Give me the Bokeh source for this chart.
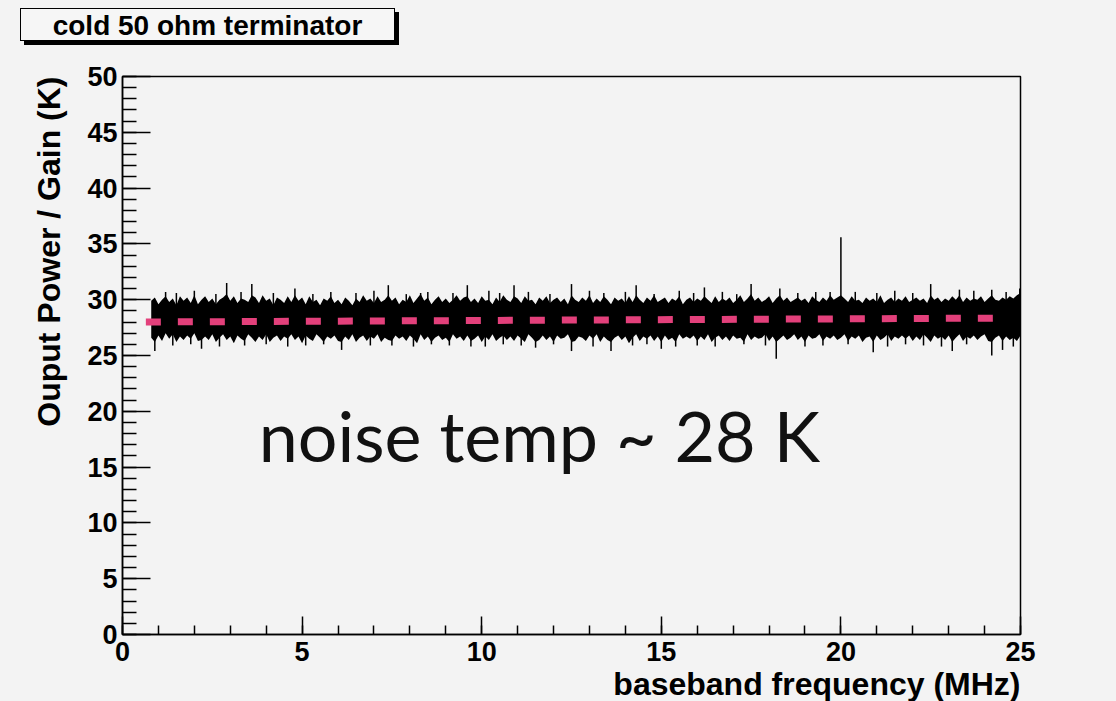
import numpy as np
from bokeh.plotting import figure
from bokeh.models import Range1d, SingleIntervalTicker, Label, Div, Title
from bokeh.layouts import column
from bokeh.embed import file_html
from bokeh.resources import INLINE

# ---------------- data ----------------
title_text = "cold 50 ohm terminator"
x_label = "baseband frequency (MHz)"
y_label = "Ouput Power / Gain (K)"
note_text = "noise temp ~ 28 K"

freq_start = 0.8      # MHz, first bin of the trace
freq_step = 0.1       # MHz, bin width used for the envelope readout

# upper envelope of the dense noise band (K), one value per 0.1 MHz from 0.8 to 25.0
band_hi = [
    29.9, 30.2, 29.6, 30.0, 30.3, 29.8, 30.1, 29.5, 30.3, 29.9,
    30.2, 29.7, 30.4, 29.6, 30.0, 30.3, 29.8, 30.1, 29.6, 30.0,
    30.2, 30.5, 29.9, 30.3, 29.7, 30.1, 30.0, 29.8, 30.4, 30.2,
    29.7, 30.4, 29.9, 30.1, 29.5, 30.2, 30.0, 29.7, 30.3, 29.8,
    30.4, 29.9, 30.2, 29.6, 30.3, 29.8, 30.0, 29.5, 30.1, 29.9,
    30.3, 29.7, 30.0, 29.6, 30.2, 29.9, 29.5, 30.1, 29.8, 30.4,
    29.9, 30.1, 29.7, 30.3, 29.8, 30.0, 30.4, 29.9, 30.2, 29.6,
    30.0, 29.8, 30.4, 29.7, 30.1, 30.5, 29.9, 30.2, 29.6, 30.0,
    30.3, 29.8, 30.1, 29.7, 30.0, 30.4, 29.9, 30.2, 30.3, 29.8,
    30.1, 29.7, 30.3, 29.9, 30.0, 29.6, 30.2, 29.8, 30.4, 30.0,
    29.8, 30.3, 30.1, 29.7, 30.3, 29.9, 30.0, 29.6, 30.2, 29.9,
    30.3, 29.7, 30.0, 30.2, 29.8, 30.1, 29.6, 30.4, 30.0, 29.8,
    30.2, 29.9, 30.4, 29.7, 30.1, 29.8, 30.3, 30.0, 29.6, 30.2,
    29.9, 30.1, 29.7, 30.3, 29.8, 30.4, 30.0, 29.7, 30.2, 29.9,
    30.4, 29.8, 30.0, 30.2, 29.7, 30.1, 29.9, 30.3, 29.6, 30.0,
    30.2, 29.8, 30.1, 29.9, 30.3, 30.0, 29.7, 30.3, 29.8, 30.1,
    29.9, 30.2, 29.7, 30.0, 30.4, 29.8, 30.1, 30.5, 29.9, 30.2,
    29.8, 30.0, 30.3, 29.7, 30.1, 30.4, 29.9, 30.2, 29.8, 30.0,
    30.2, 29.9, 30.1, 29.7, 30.3, 30.0, 29.8, 30.2, 29.9, 30.4,
    30.0, 30.2, 30.4, 30.1, 29.8, 30.3, 29.9, 30.0, 29.7, 30.2,
    29.9, 30.1, 29.8, 30.4, 29.7, 30.0, 30.2, 29.8, 30.1, 29.9,
    30.3, 29.8, 30.0, 30.2, 29.9, 30.1, 29.7, 30.4, 30.0, 30.2,
    29.8, 30.1, 29.9, 30.3, 30.0, 30.4, 29.8, 30.2, 29.9, 30.1,
    30.0, 30.3, 29.8, 30.1, 30.4, 30.0, 29.9, 30.2, 30.0, 30.3,
    30.1, 30.4, 30.6,
]

# lower envelope of the dense noise band (K)
band_lo = [
    26.6, 26.2, 26.8, 26.3, 27.0, 26.5, 26.9, 26.2, 26.7, 26.4,
    26.8, 26.5, 27.0, 26.3, 26.4, 26.7, 26.4, 26.9, 26.2, 26.6,
    26.9, 26.4, 26.7, 26.1, 26.8, 26.5, 26.3, 26.9, 26.6, 26.2,
    26.7, 26.4, 26.9, 26.2, 26.6, 26.8, 26.3, 26.7, 26.5, 26.9,
    26.4, 26.7, 26.1, 26.8, 26.5, 26.3, 26.9, 26.6, 26.2, 26.7,
    26.5, 26.8, 26.3, 26.2, 26.7, 26.4, 26.9, 26.2, 26.6, 26.8,
    26.3, 26.7, 26.5, 26.9, 26.2, 26.6, 26.4, 26.3, 26.8, 26.5,
    26.7, 26.3, 26.8, 26.5, 26.1, 26.9, 26.4, 26.7, 26.2, 26.6,
    26.8, 26.4, 26.6, 26.2, 26.9, 26.5, 26.7, 26.3, 26.8, 26.3,
    26.5, 26.8, 26.2, 26.7, 26.4, 26.9, 26.3, 26.6, 26.8, 26.4,
    26.7, 26.3, 26.8, 26.5, 26.2, 26.9, 26.6, 26.2, 26.4, 26.8,
    26.4, 26.7, 26.2, 26.8, 26.5, 26.6, 26.9, 26.2, 26.3, 26.7,
    26.6, 26.3, 26.8, 26.5, 26.9, 26.2, 26.7, 26.4, 26.2, 26.6,
    26.8, 26.4, 26.7, 26.1, 26.6, 26.9, 26.3, 26.7, 26.5, 26.8,
    26.3, 26.7, 26.2, 26.8, 26.4, 26.6, 26.2, 26.9, 26.5, 26.7,
    26.5, 26.8, 26.3, 26.7, 26.4, 26.9, 26.2, 26.6, 26.8, 26.4,
    26.7, 26.3, 26.8, 26.5, 26.6, 26.2, 26.9, 26.4, 26.7, 26.5,
    26.6, 26.9, 26.3, 26.7, 26.2, 26.5, 26.8, 26.4, 26.6, 26.9,
    26.4, 26.7, 26.2, 26.8, 26.5, 26.6, 26.9, 26.3, 26.7, 26.5,
    26.8, 26.4, 26.6, 26.9, 26.3, 26.7, 26.5, 26.8, 26.2, 26.6,
    26.7, 26.2, 26.8, 26.4, 26.6, 26.9, 26.3, 26.7, 26.5, 26.8,
    26.5, 26.8, 26.3, 26.7, 26.4, 26.9, 26.6, 26.2, 26.8, 26.5,
    26.7, 26.4, 26.8, 26.2, 26.6, 26.9, 26.3, 26.7, 26.5, 26.8,
    26.4, 26.7, 26.9, 26.3, 26.2, 26.6, 26.8, 26.3, 26.7, 26.4,
    26.6, 26.3, 26.8,
]

# isolated upward spikes (MHz, K)
spike_up_x = [1.2, 1.5, 2.0, 2.6, 2.9, 3.3, 3.6, 4.2, 4.8, 5.3, 5.8, 6.5, 7.0, 7.4,
              7.9, 8.3, 8.5, 9.2, 9.6, 10.2, 10.5, 10.9, 11.3, 11.9, 12.5, 13.0,
              13.4, 14.0, 14.3, 14.8, 15.5, 15.9, 16.2, 16.7, 17.1, 17.5, 18.3,
              18.8, 19.3, 19.7, 20.0, 20.4, 21.0, 21.5, 22.0, 22.5, 23.3, 23.7,
              24.2, 24.6, 24.98]
spike_up_y = [30.7, 30.6, 30.8, 30.5, 31.5, 30.7, 31.4, 30.6, 31.0, 30.5, 30.7, 30.6,
              30.8, 31.3, 30.5, 30.6, 30.7, 30.6, 31.3, 30.8, 30.6, 31.3, 30.7, 30.5,
              31.4, 30.8, 30.6, 30.7, 31.3, 30.5, 30.8, 30.6, 31.1, 30.7, 30.5, 31.4,
              31.0, 30.6, 30.7, 30.7, 35.6, 30.7, 30.6, 30.8, 30.6, 31.4, 30.9, 30.8,
              30.9, 30.7, 31.0]

# isolated downward spikes (MHz, K)
spike_dn_x = [0.9, 1.4, 1.9, 2.2, 2.7, 3.4, 4.0, 4.6, 5.1, 5.6, 6.1, 6.9, 7.5, 8.1,
              8.6, 9.1, 9.7, 10.1, 10.6, 11.1, 11.5, 12.0, 12.5, 13.1, 13.6, 14.2,
              14.6, 15.0, 15.4, 16.0, 16.5, 17.3, 17.9, 18.2, 19.0, 19.5, 20.2, 20.9,
              21.3, 21.8, 22.3, 22.8, 23.1, 23.5, 24.2, 24.5, 24.8]
spike_dn_y = [25.4, 25.9, 26.0, 25.6, 25.8, 25.9, 26.0, 25.8, 25.9, 26.0, 25.5, 25.9,
              25.9, 25.8, 26.0, 25.9, 25.8, 25.8, 26.0, 25.9, 25.7, 26.0, 25.4, 25.8,
              25.4, 25.9, 26.0, 25.6, 25.8, 25.9, 25.8, 26.0, 25.9, 24.7, 25.8, 25.9,
              26.0, 25.3, 25.8, 26.0, 25.9, 25.8, 25.4, 26.0, 25.0, 25.5, 25.8]

# fitted noise level (dashed pink line)
fit_x = [0.65, 24.5]
fit_y = [28.0, 28.35]

# ---------------- figure ----------------
BG = "#f3f3f3"
FONT = "Liberation Sans"
TOP_H = 60

p = figure(width=1116, height=701 - TOP_H,
           x_range=Range1d(0, 25), y_range=Range1d(0, 50),
           output_backend="svg", toolbar_location=None,
           min_border_left=122, min_border_right=96,
           min_border_top=76 - TOP_H, min_border_bottom=67)
p.background_fill_color = BG
p.border_fill_color = BG
p.outline_line_color = "black"
p.outline_line_width = 1.5
p.grid.visible = False

xa = p.xaxis[0]
xa.ticker = SingleIntervalTicker(interval=5, num_minor_ticks=5)
xa.major_tick_in = 18
xa.major_tick_out = 0
xa.minor_tick_in = 9
xa.minor_tick_out = 0
xa.major_label_standoff = 7

ya = p.yaxis[0]
ya.ticker = SingleIntervalTicker(interval=5, num_minor_ticks=5)
ya.major_tick_in = 28
ya.major_tick_out = 0
ya.minor_tick_in = 14
ya.minor_tick_out = 0
ya.major_label_standoff = 5

for ax in (xa, ya):
    ax.axis_line_color = "black"
    ax.axis_line_width = 1.5
    ax.major_tick_line_color = "black"
    ax.major_tick_line_width = 1.5
    ax.minor_tick_line_color = "black"
    ax.minor_tick_line_width = 1.5
    ax.major_label_text_font = FONT
    ax.major_label_text_font_style = "bold"
    ax.major_label_text_font_size = "27px"
    ax.major_label_text_color = "black"

# axis titles, ROOT style (flush with the right / top end of the axis)
p.add_layout(Title(text=x_label, align="right", text_font=FONT,
                   text_font_style="bold", text_font_size="32px",
                   text_color="black", standoff=0, offset=0), "below")
p.add_layout(Title(text=y_label, align="right", text_font=FONT,
                   text_font_style="bold", text_font_size="32px",
                   text_color="black", standoff=36, offset=0), "left")

# noise band
xs = np.round(freq_start + freq_step * np.arange(len(band_hi)), 3)
p.varea(x=xs, y1=band_lo, y2=band_hi, fill_color="black")

mid = 28.3
p.segment(x0=spike_up_x, y0=[mid] * len(spike_up_x), x1=spike_up_x, y1=spike_up_y,
          line_color="black", line_width=1.5)
p.segment(x0=spike_dn_x, y0=[mid] * len(spike_dn_x), x1=spike_dn_x, y1=spike_dn_y,
          line_color="black", line_width=1.5)

# fitted level
p.line(fit_x, fit_y, line_color="#e3407b", line_width=7, line_dash="15 17",
       line_cap="butt")

# annotation
p.add_layout(Label(x=3.79, y=17.9, text=note_text, text_align="left",
                   text_baseline="alphabetic", text_font="Lato",
                   text_font_size="70px", text_color="#111111"))

# title box with shadow (ROOT style pave)
title_html = (
    '<div style="position:relative; left:20px; top:8px; width:375px; height:33px;'
    ' border:1.5px solid #000; box-shadow:4px 4px 0 #000; background:#f6f6f6;'
    " font-family:'Liberation Sans', Arial, sans-serif; font-weight:bold;"
    ' font-size:28px; line-height:33px; text-align:center; color:#000;">'
    + title_text + '</div>'
)
top = Div(text=title_html, width=1116, height=TOP_H, margin=0,
          styles={"background-color": BG, "margin": "0", "padding": "0"})

layout = column(top, p, spacing=0, styles={"background-color": BG})

open("out.html", "w").write(file_html(layout, INLINE))
